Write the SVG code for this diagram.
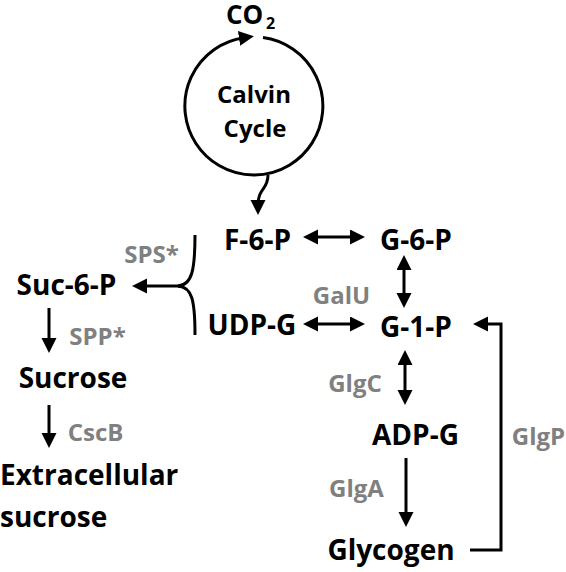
<svg xmlns="http://www.w3.org/2000/svg" width="566" height="572" viewBox="0 0 566 572">
<style>
text{font-family:"Open Sans","Liberation Sans",sans-serif;font-weight:700;text-anchor:middle}
.m{font-size:28px;fill:#000}
.e{font-size:24px;fill:#808080}
.c{stroke:#000;stroke-width:3;fill:none}
</style>
<defs>
<marker id="ah" markerUnits="userSpaceOnUse" markerWidth="16" markerHeight="16" refX="5" refY="7.5" orient="auto-start-reverse">
<path d="M0,0 L15,7.5 L0,15 Z" fill="#000"/>
</marker>
</defs>
<rect width="566" height="572" fill="#fff"/>
<g id="calvin">
<path class="c" d="M263,37.6 A69,69 0 1 1 244,37.7" marker-end="url(#ah)"/>
<text x="254" y="103" style="font-size:24px">Calvin</text>
<text x="255" y="137" style="font-size:24px">Cycle</text>
</g>
<g id="co2"><text x="226" y="24" style="font-size:26px;text-anchor:start">CO</text><text x="266" y="29" style="font-size:16px;text-anchor:start">2</text></g>
<g id="f6p"><text class="m" x="257.5" y="250">F-6-P</text></g>
<g id="g6p"><text class="m" x="416" y="250">G-6-P</text></g>
<g id="suc6p"><text class="m" x="66.5" y="295">Suc-6-P</text></g>
<g id="udpg"><text class="m" x="252" y="335">UDP-G</text></g>
<g id="g1p"><text class="m" x="416" y="337">G-1-P</text></g>
<g id="sucrose"><text class="m" x="73" y="388">Sucrose</text></g>
<g id="adpg"><text class="m" x="415.5" y="445">ADP-G</text></g>
<g id="glycogen"><text class="m" x="391" y="560">Glycogen</text></g>
<g id="extra"><text class="m" x="0" y="485" style="text-anchor:start">Extracellular</text><text class="m" x="0" y="527" style="text-anchor:start">sucrose</text></g>
<g id="enzymes">
<text class="e" x="151.5" y="263">SPS*</text>
<text class="e" x="341.5" y="304">GalU</text>
<text class="e" x="97.5" y="345">SPP*</text>
<text class="e" x="95.5" y="441">CscB</text>
<text class="e" x="355" y="392">GlgC</text>
<text class="e" x="356.5" y="497">GlgA</text>
<text class="e" x="538.5" y="445">GlgP</text>
</g>
<g id="connectors">
<path class="c" d="M268,175 C268,190 258,188 258,205" marker-end="url(#ah)"/>
<path class="c" d="M313,237 L355,237" marker-start="url(#ah)" marker-end="url(#ah)"/>
<path class="c" d="M313,324 L355,324" marker-start="url(#ah)" marker-end="url(#ah)"/>
<path class="c" d="M404,265 L404,298" marker-start="url(#ah)" marker-end="url(#ah)"/>
<path class="c" d="M405,360 L405,395" marker-start="url(#ah)" marker-end="url(#ah)"/>
<path class="c" d="M406,458 L406,517" marker-end="url(#ah)"/>
<path class="c" d="M49,308 L49,343" marker-end="url(#ah)"/>
<path class="c" d="M49,405 L49,438" marker-end="url(#ah)"/>
<path class="c" d="M195,235 C195,270 192,285 178,286"/>
<path class="c" d="M195,335 C195,300 192,287 178,286"/>
<path class="c" d="M182,286 L142,286" marker-end="url(#ah)"/>
<path class="c" d="M470,550 L501,550 L501,324 L483,324" marker-end="url(#ah)"/>
</g>
</svg>
